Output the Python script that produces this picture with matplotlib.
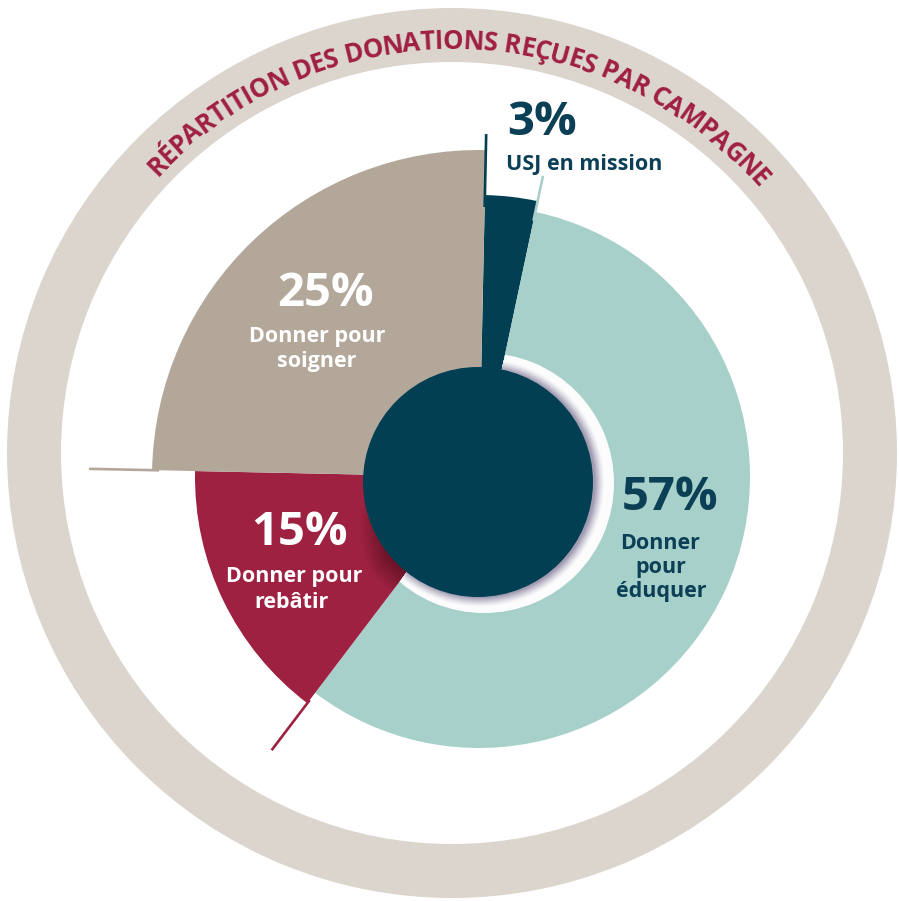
import numpy as np
import matplotlib
matplotlib.use("Agg")
import matplotlib.pyplot as plt
from matplotlib.patches import Wedge, Circle
from matplotlib.font_manager import FontProperties, findfont
from matplotlib.ft2font import FT2Font, LOAD_NO_HINTING

# ---------------- data ----------------
categories = ["USJ en mission", "Donner pour éduquer", "Donner pour rebâtir", "Donner pour soigner"]
values = [3, 57, 15, 25]
pct_labels = ["3%", "57%", "15%", "25%"]
desc_lines = [["USJ en mission"], ["Donner", "pour", "éduquer"],
              ["Donner pour", "rebâtir"], ["Donner pour", "soigner"]]
title = "RÉPARTITION DES DONATIONS REÇUES PAR CAMPAGNE"

# ---------------- style ----------------
slice_colors = ["#023f53", "#a8d0cb", "#9e2141", "#b3a79a"]
slice_radii = [282, 271, 284, 327]
text_colors = ["#0b3f55", "#0b3f55", "white", "white"]
ring_color = "#dbd5ce"
title_color = "#a01f43"
FONT = "Open Sans"

W_PX, H_PX = 899, 901
fig = plt.figure(figsize=(W_PX / 100, H_PX / 100), dpi=100)
ax = fig.add_axes([0, 0, 1, 1])


def P(x, y):
    """image pixel coords -> data coords"""
    return (x, H_PX - y)


# outer ring
ring_c = P(452, 453)
ax.add_patch(Wedge(ring_c, 445, 0, 360, width=54, facecolor=ring_color,
                   edgecolor="none", zorder=1))

# pie with per-slice radius
start = 88.8
pie_c = P(479, 477)
wedges, _ = ax.pie(values, colors=slice_colors, startangle=start, counterclock=False,
                   center=pie_c, radius=1,
                   wedgeprops=dict(linewidth=0, edgecolor="none"))
for wdg, r in zip(wedges, slice_radii):
    wdg.set_radius(r)
    wdg.set_zorder(2)

# boundary angles (deg, math convention) derived from data
bounds = start - 360 * np.cumsum([0] + values) / np.sum(values)
# decorative radial strokes: (boundary index, slice index, r_start, r_end)
strokes = [(0, 0, 270, 343), (1, 1, 262, 308), (2, 2, 280, 343), (3, 3, 320, 390)]
for bi, si, r0, r1 in strokes:
    a = np.deg2rad(bounds[bi])
    xs = [pie_c[0] + r0 * np.cos(a), pie_c[0] + r1 * np.cos(a)]
    ys = [pie_c[1] + r0 * np.sin(a), pie_c[1] + r1 * np.sin(a)]
    ax.plot(xs, ys, color=slice_colors[si], lw=1.9, solid_capstyle="butt", zorder=2.5)

# shadow / halo around the centre disc (clipped to their slices)
teal_w, red_w = wedges[1], wedges[2]
cc = P(478, 482)
nsh = 14
for i, rr in enumerate(np.linspace(140, 116, nsh)):
    f = i / (nsh - 1)
    p = Wedge(cc, rr, bounds[3] + 40 - 30 * f, bounds[2] + 10, facecolor="black",
              alpha=0.022, edgecolor="none", zorder=3)
    ax.add_patch(p)
    p.set_clip_path(red_w)
p = Wedge(P(484, 483), 130, 0, 360, facecolor="#fcfcfd", edgecolor="none", zorder=3.1)
ax.add_patch(p)
p.set_clip_path(teal_w)
c_out = np.array(matplotlib.colors.to_rgb("#fcfcfd"))
c_in = np.array(matplotlib.colors.to_rgb("#a29cb3"))
nst = 12
for i, rr in enumerate(np.linspace(125, 115.5, nst)):
    f = (i / (nst - 1)) ** 1.3
    p = Wedge(P(480, 482.5), rr, 0, 360,
              facecolor=c_out * (1 - f) + c_in * f, edgecolor="none", zorder=3.2)
    ax.add_patch(p)
    p.set_clip_path(teal_w)
ax.add_patch(Circle(cc, 115, facecolor=slice_colors[0], edgecolor="none", zorder=4))

# labels: (pct anchor x, baseline y, ha), lines list of (x, baseline y)
label_layout = [
    dict(pct=(507, 135, "left"), lines=[(506, 170, "left")]),
    dict(pct=(670, 510, "center"), lines=[(660, 549, "center"), (661, 573, "center"), (661, 597, "center")]),
    dict(pct=(300, 545, "center"), lines=[(294, 582, "center"), (292, 608, "center")]),
    dict(pct=(326, 306, "center"), lines=[(317, 342, "center"), (317, 367, "center")]),
]
for k in range(len(values)):
    lay = label_layout[k]
    px, py, ha = lay["pct"]
    ax.text(*P(px, py), pct_labels[k], color=text_colors[k], fontsize=34,
            fontweight="bold", family=FONT, ha=ha, va="baseline", zorder=6)
    for line, (lx, ly, lha) in zip(desc_lines[k], lay["lines"]):
        ax.text(*P(lx, ly), line, color=text_colors[k], fontsize=15.5,
                fontweight="bold", family=FONT, ha=lha, va="baseline", zorder=6)

# curved title along the ring
fs_title = 18.5
tprop = FontProperties(family=FONT, weight="bold", size=fs_title)
ft = FT2Font(findfont(tprop))
ft.set_size(fs_title, 100)
adv = np.array([ft.load_char(ord(c), flags=LOAD_NO_HINTING).linearHoriAdvance / 65536.0
                for c in title])
span_deg = 96.0
R_base = 404.0
adv = adv * np.deg2rad(span_deg) * R_base / adv.sum()
starts = np.concatenate([[0], np.cumsum(adv)[:-1]])
mids = starts + adv / 2 - adv.sum() / 2
phi0 = np.deg2rad(1.2)
for ch, s in zip(title, mids):
    phi = s / R_base + phi0
    x = ring_c[0] + R_base * np.sin(phi)
    y = ring_c[1] + R_base * np.cos(phi)
    ax.text(x, y, ch, color=title_color, fontproperties=tprop,
            ha="center", va="baseline", rotation=-np.rad2deg(phi),
            rotation_mode="anchor", zorder=6)

ax.set_xlim(0, W_PX)
ax.set_ylim(0, H_PX)
ax.set_aspect("auto")
ax.axis("off")
fig.savefig("out.png", dpi=100, facecolor="white")
